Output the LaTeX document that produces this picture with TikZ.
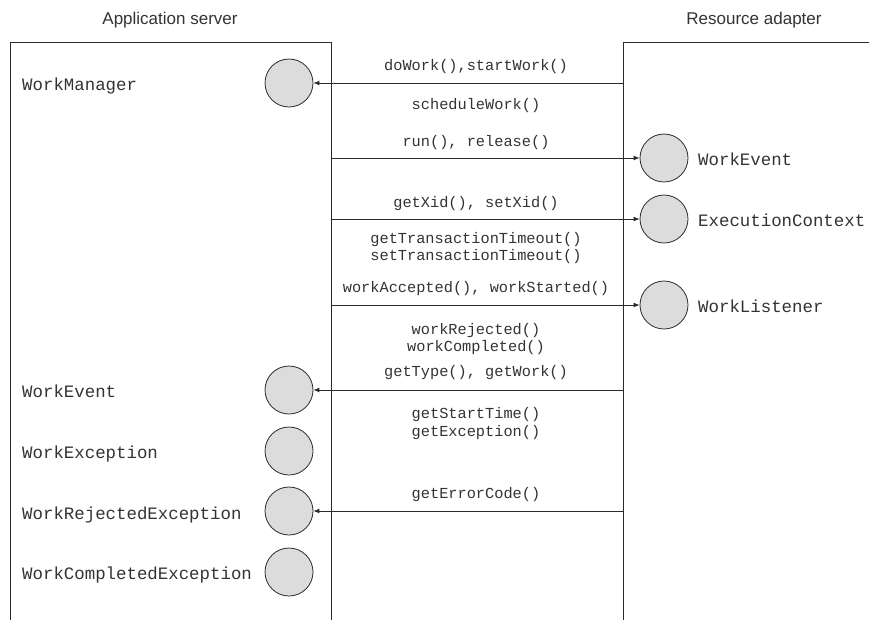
\documentclass[tikz,border=0pt]{standalone}
\usepackage{fontspec}
\setmainfont{Liberation Sans}
\newfontfamily\codefont{Liberation Mono}
\usetikzlibrary{arrows.meta}
\definecolor{ink}{HTML}{2A2A2A}
\definecolor{txt}{HTML}{333333}
\definecolor{ballfill}{HTML}{DCDCDC}
\tikzset{
  frame/.style={draw=ink, line width=0.9pt},
  ball/.style={circle, draw=ink, line width=0.8pt, fill=ballfill, minimum size=48pt, inner sep=0pt},
  cls/.style={anchor=base west, inner sep=0pt, text=txt, font=\codefont\fontsize{17.4}{19}\selectfont},
  meth/.style={inner sep=0pt, text=txt, font=\codefont\fontsize{15.3}{17.5}\selectfont},
  head/.style={anchor=base, inner sep=0pt, text=txt, font=\fontsize{17}{19}\selectfont},
  arr/.style={draw=ink, line width=0.9pt, -{Latex[length=6pt,width=5pt]}},
}
\begin{document}
\begin{tikzpicture}[x=1pt,y=-1pt]
\useasboundingbox (0,0) rectangle (869,619);
% headings
\node[head] (h1) at (170,24) {Application server};
\node[head] (h2) at (754,24) {Resource adapter};
% frames
\draw[frame] (10,625) -- (10,42) -- (331,42) -- (331,625);
\draw[frame] (880,42) -- (623,42) -- (623,625);
% left balls
\node[ball] (wm) at (289,83) {};
\node[ball] (we) at (289,390) {};
\node[ball] (wx) at (289,451) {};
\node[ball] (wr) at (289,511) {};
\node[ball] (wc) at (289,572) {};
\node[cls] (twm) at (22,90) {WorkManager};
\node[cls] (twe) at (22,397) {WorkEvent};
\node[cls] (twx) at (22,458) {WorkException};
\node[cls] (twr) at (22,519) {WorkRejectedException};
\node[cls] (twc) at (22,579) {WorkCompletedException};
% right balls
\node[ball] (rwe) at (664,158) {};
\node[ball] (rec) at (664,219) {};
\node[ball] (rwl) at (664,305) {};
\node[cls] (trwe) at (698,165) {WorkEvent};
\node[cls] (trec) at (698,226) {ExecutionContext};
\node[cls] (trwl) at (698,312) {WorkListener};
% connector ends
\coordinate (a1) at (623,83);
\coordinate (a2) at (331,158);
\coordinate (a3) at (331,219);
\coordinate (a4) at (331,305);
\coordinate (a5) at (623,390);
\coordinate (a6) at (623,511);
\draw[arr] (a1) -- (wm.east);
\draw[arr] (a2) -- (rwe.west);
\draw[arr] (a3) -- (rec.west);
\draw[arr] (a4) -- (rwl.west);
\draw[arr] (a5) -- (we.east);
\draw[arr] (a6) -- (wr.east);
% method labels
\node[meth] (m1) at (476,67) {doWork(),startWork()};
\node[meth] (m2) at (476,106) {scheduleWork()};
\node[meth] (m3) at (476,143) {run(), release()};
\node[meth] (m4) at (476,204) {getXid(), setXid()};
\node[meth] (m5a) at (476,240) {getTransactionTimeout()};
\node[meth] (m5b) at (476,257) {setTransactionTimeout()};
\node[meth] (m6) at (476,289) {workAccepted(), workStarted()};
\node[meth] (m7a) at (476,331) {workRejected()};
\node[meth] (m7b) at (476,348) {workCompleted()};
\node[meth] (m8) at (476,373) {getType(), getWork()};
\node[meth] (m9a) at (476,415) {getStartTime()};
\node[meth] (m9b) at (476,433) {getException()};
\node[meth] (m10) at (476,495) {getErrorCode()};
\end{tikzpicture}
\end{document}
